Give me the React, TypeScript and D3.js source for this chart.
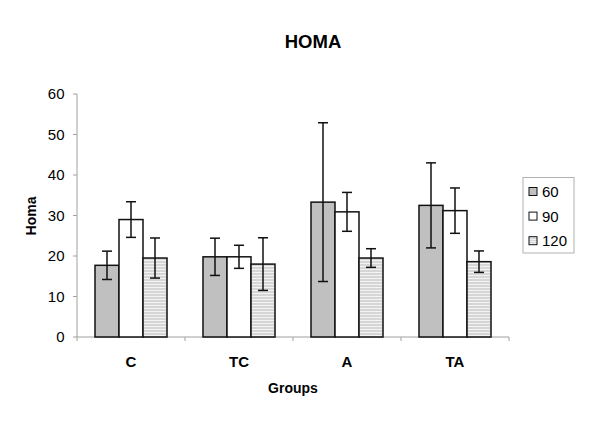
import React from "react";
import * as d3 from "d3";

const categories = ["C", "TC", "A", "TA"];
const seriesNames = ["60", "90", "120"];
const values60 = [17.7, 19.8, 33.3, 32.5];
const values90 = [29.0, 19.8, 30.9, 31.2];
const values120 = [19.5, 18.0, 19.5, 18.6];
const err60 = [3.5, 4.6, 19.6, 10.5];
const err90 = [4.4, 2.85, 4.8, 5.6];
const err120 = [4.95, 6.5, 2.3, 2.65];
const yTicks = [0, 10, 20, 30, 40, 50, 60];

const seriesValues = [values60, values90, values120];
const seriesErrs = [err60, err90, err120];
const fills = ["#c0c0c0", "#ffffff", "url(#stripes)"];

const W = 600;
const H = 430;
const left = 77;
const right = 509;
const top = 94;
const bottom = 337;
const font = "'Liberation Sans', Arial, sans-serif";

export default function App() {
  const x = d3.scaleBand<string>().domain(categories).range([left, right]).padding(0);
  const bw = x.bandwidth();
  const xs = d3
    .scaleBand<string>()
    .domain(seriesNames)
    .range([bw / 6, (bw * 5) / 6])
    .padding(0);
  const y = d3.scaleLinear().domain([0, 60]).range([bottom, top]);
  const boundaries = [...categories.map((c) => x(c) as number), right];

  return (
    <div style={{ margin: -8 }}>
      <svg width={W} height={H} style={{ display: "block", background: "#fff" }}>
        <defs>
          <pattern id="stripes" width="4" height="3" patternUnits="userSpaceOnUse">
            <rect width="4" height="3" fill="#d6d6d6" />
            <rect y="2" width="4" height="1" fill="#f2f2f2" />
          </pattern>
          <pattern id="stripesLegend" width="4" height="2" patternUnits="userSpaceOnUse">
            <rect width="4" height="2" fill="#d6d6d6" />
            <rect y="1" width="4" height="1" fill="#eeeeee" />
          </pattern>
        </defs>
        <text
          x={313}
          y={48}
          textAnchor="middle"
          fontFamily={font}
          fontWeight="bold"
          fontSize={18.5}
        >
          HOMA
        </text>

        {/* y axis */}
        <line x1={left} x2={left} y1={top} y2={bottom} stroke="#a0a0a0" strokeWidth={1} />
        {yTicks.map((t) => (
          <g key={t}>
            <line x1={left - 4} x2={left} y1={y(t)} y2={y(t)} stroke="#a0a0a0" />
            <text
              x={64.5}
              y={y(t)}
              dy="0.36em"
              textAnchor="end"
              fontFamily={font}
              fontSize={15}
            >
              {t}
            </text>
          </g>
        ))}
        {/* x axis */}
        <line x1={left} x2={right} y1={bottom} y2={bottom} stroke="#a0a0a0" />
        {boundaries.map((b, i) => (
          <line key={i} x1={b} x2={b} y1={bottom} y2={bottom + 4} stroke="#a0a0a0" />
        ))}

        {/* bars */}
        {categories.map((c, ci) =>
          seriesNames.map((s, si) => {
            const v = seriesValues[si][ci];
            const bx = (x(c) as number) + (xs(s) as number);
            return (
              <rect
                key={c + s}
                x={bx}
                y={y(v)}
                width={xs.bandwidth()}
                height={bottom - y(v)}
                fill={fills[si]}
                stroke="#111"
                strokeWidth={1.5}
              />
            );
          })
        )}
        {/* error bars */}
        {categories.map((c, ci) =>
          seriesNames.map((s, si) => {
            const v = seriesValues[si][ci];
            const e = seriesErrs[si][ci];
            const cx = (x(c) as number) + (xs(s) as number) + xs.bandwidth() / 2;
            return (
              <g key={"e" + c + s} stroke="#111" strokeWidth={1.5}>
                <line x1={cx} x2={cx} y1={y(v + e)} y2={y(v - e)} />
                <line x1={cx - 5} x2={cx + 5} y1={y(v + e)} y2={y(v + e)} />
                <line x1={cx - 5} x2={cx + 5} y1={y(v - e)} y2={y(v - e)} />
              </g>
            );
          })
        )}

        {/* category labels */}
        {categories.map((c) => (
          <text
            key={"l" + c}
            x={(x(c) as number) + bw / 2}
            y={366.5}
            textAnchor="middle"
            fontFamily={font}
            fontWeight="bold"
            fontSize={15}
          >
            {c}
          </text>
        ))}
        <text x={293} y={393} textAnchor="middle" fontFamily={font} fontWeight="bold" fontSize={14}>
          Groups
        </text>
        <text
          transform="translate(36,216) rotate(-90)"
          textAnchor="middle"
          fontFamily={font}
          fontWeight="bold"
          fontSize={14}
        >
          Homa
        </text>

        {/* legend */}
        <rect x={523} y={177.5} width={51} height={75.5} fill="#fff" stroke="#b0b0b0" />
        {seriesNames.map((s, i) => {
          const ly = 191.5 + i * 24.6;
          return (
            <g key={"lg" + s}>
              <rect
                x={529}
                y={ly - 4}
                width={8}
                height={8}
                fill={i === 2 ? "url(#stripesLegend)" : fills[i]}
                stroke="#111"
                strokeWidth={1}
              />
              <text x={542} y={ly} dy="0.36em" fontFamily={font} fontSize={15}>
                {s}
              </text>
            </g>
          );
        })}
      </svg>
    </div>
  );
}
